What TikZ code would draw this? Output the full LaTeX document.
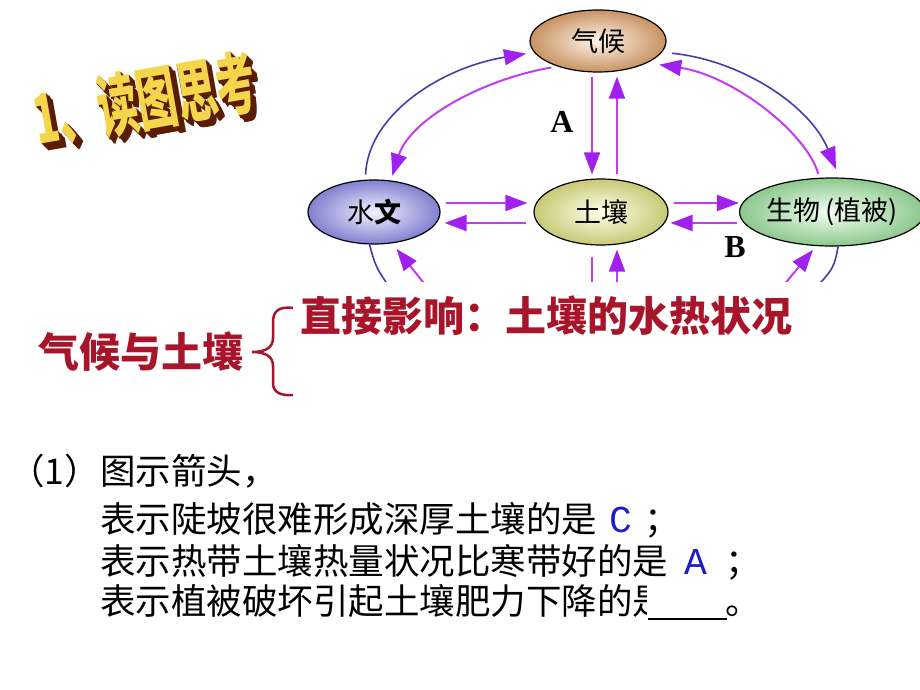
\documentclass[tikz,border=0pt]{standalone}
\usepackage{fontspec}
\setmainfont{Noto Sans CJK SC}
\newfontfamily\abfont{Liberation Serif}
\newfontfamily\ansmono{Liberation Mono}
\usetikzlibrary{shapes.geometric,arrows.meta,positioning}
\definecolor{pinkline}{HTML}{C43CF0}
\definecolor{violethead}{HTML}{A020F0}
\definecolor{blueline}{HTML}{4B3BA8}
\definecolor{darkred}{HTML}{A8142A}
\definecolor{ansblue}{HTML}{1E1EC8}
\definecolor{goldtop}{HTML}{F4D64C}
\definecolor{brownside}{HTML}{5A1C02}
\begin{document}
\begin{tikzpicture}[x=1pt,y=-1pt,
    ell/.style={ellipse,draw=black,line width=1.2pt,inner sep=0pt,
        font=\fontsize{27}{30}\selectfont},
    headtip/.style={-{Triangle[length=22pt,width=16pt,color=violethead]}},
    pinkarr/.style={draw=pinkline,line width=2pt,headtip},
    bluearr/.style={draw=blueline,line width=1.6pt,headtip},
    txt/.style={inner sep=0pt,anchor=base west,font=\fontsize{35.5}{40}\selectfont},
    redtxt/.style={inner sep=0pt,anchor=west,text=darkred,font=\fontsize{41}{46}\selectfont\bfseries},
    lbl/.style={inner sep=0pt,font=\fontsize{32}{36}\selectfont\abfont\bfseries},
    ans/.style={inner sep=0pt,anchor=base west,text=ansblue,font=\fontsize{38}{42}\selectfont\ansmono}]
\useasboundingbox (0,0) rectangle (920,690);

% title
\foreach \d in {8,7,...,1}
    \node[rotate=10,yscale=1.7,text=brownside,font=\fontsize{40}{44}\selectfont\bfseries]
        at (145+0.8*\d,100+0.8*\d) {1、读图思考};
\node[rotate=10,yscale=1.7,text=goldtop,font=\fontsize{40}{44}\selectfont\bfseries]
    (title) at (145,100) {1、读图思考};

% diagram
\begin{scope}
\clip (300,0) rectangle (920,281);
\node[ell,minimum width=136pt,minimum height=62pt,inner color=orange!8,outer color={rgb,255:red,200;green,146;blue,98}] (qihou) at (598,41) {气候};
\node[ell,minimum width=132pt,minimum height=64pt,inner color=blue!5,outer color={rgb,255:red,128;green,128;blue,208}] (shuiwen) at (374,212) {水{\bfseries 文}};
\node[ell,minimum width=134pt,minimum height=66pt,inner color=yellow!8,outer color={rgb,255:red,200;green,200;blue,118}] (turang) at (601,212) {土壤};
\node[ell,minimum width=144pt,minimum height=68pt,inner color=green!4,outer color={rgb,255:red,140;green,200;blue,140}] (shengwu) at (832,212) {生物\,(植被)};

\node[lbl] (labA) at (562,122) {A};
\node[lbl] (labB) at (735,247) {B};

\draw[bluearr,shorten <=5pt,shorten >=8pt] (shuiwen.105) .. controls (368,115) and (440,68) .. (qihou.190);
\draw[pinkarr,shorten <=6pt,shorten >=5pt] (qihou.212) .. controls (480,80) and (410,120) .. (shuiwen.62);
\draw[bluearr,shorten <=10pt,shorten >=9pt] (qihou.-10) .. controls (740,60) and (810,105) .. (shengwu.78);
\draw[pinkarr,shorten <=4pt,shorten >=12pt] (shengwu.110) .. controls (805,130) and (730,75) .. (qihou.-24);

\draw[pinkarr,shorten <=4pt,shorten >=4pt] ([xshift=-6pt]qihou.south) -- ([xshift=-9pt]turang.north);
\draw[pinkarr,shorten <=4pt,shorten >=4pt] ([xshift=16pt]turang.north) -- ([xshift=19pt]qihou.south);

\draw[pinkarr,shorten <=5pt,shorten >=6pt] ([yshift=9pt]shuiwen.east) -- ([yshift=9pt]turang.west);
\draw[pinkarr,shorten <=7pt,shorten >=4pt] ([yshift=-11pt]turang.west) -- ([yshift=-11pt]shuiwen.east);
\draw[pinkarr,shorten <=5pt,shorten >=0pt] ([yshift=9pt]turang.east) -- ([yshift=9pt]shengwu.west);
\draw[pinkarr,shorten <=2pt,shorten >=2pt] ([yshift=-11pt]shengwu.west) -- ([yshift=-11pt]turang.east);

% lower part, cut off
\coordinate (hwlow) at (395,295);
\coordinate (hwup) at (431,292);
\coordinate (trlow) at (592,292);
\coordinate (trup) at (617,292);
\coordinate (swup) at (778,292);
\coordinate (swlow) at (812,292);
\draw[blueline,line width=1.6pt] (shuiwen.262) .. controls (376,268) .. (hwlow);
\draw[pinkarr,shorten >=7pt] (hwup) -- (shuiwen.-60);
\draw[pinkline,line width=2pt,shorten <=11pt] ([xshift=-9pt]turang.south) -- (trlow);
\draw[pinkarr,shorten >=4pt] (trup) -- ([xshift=16pt]turang.south);
\draw[pinkarr,shorten >=5pt] (swup) -- (shengwu.245);
\draw[blueline,line width=1.6pt] (shengwu.-80) .. controls (834,268) .. (swlow);
\end{scope}

% climate and soil
\node[redtxt] (direct) at (300,316) {直接影响：土壤的水热状况};
\node[redtxt] (qhtr) at (38,352) {气候与土壤};
\draw[darkred,line width=2.5pt] (293,308) .. controls (278,306) and (273,312) .. (273,322) -- (273,338)
    .. controls (273,348) and (265,352) .. (252,352) .. controls (265,352) and (273,356) .. (273,366)
    -- (273,383) .. controls (273,392) and (280,396) .. (293,395);

% questions
\node[txt] (q1) at (100,484) {图示箭头，};
\node[txt,anchor=base east] (num) at (q1.base west) {（1）};
\node[txt] (q2) at (100,532) {表示陡坡很难形成深厚土壤的是};
\node[ans] (ansC) at ([xshift=12pt]q2.base east) {C};
\node[txt] (semi1) at ([xshift=12pt]ansC.base east) {；};
\node[txt] (q3) at (100,574) {表示热带土壤热量状况比寒带好的是};
\node[ans] (ansA) at ([xshift=16pt]q3.base east) {A};
\node[txt] (semi2) at ([xshift=18pt]ansA.base east) {；};
\node[txt] (q4) at (100,614) {表示植被破坏引起土壤肥力下降的是};
\fill[white] (647,578) rectangle (674,617);
\coordinate (blankL) at (648,619);
\coordinate (blankR) at (727,619);
\draw[line width=2.5pt] (blankL) -- (blankR);
\node[txt] (stop) at (725,614) {。};
\end{tikzpicture}
\end{document}
